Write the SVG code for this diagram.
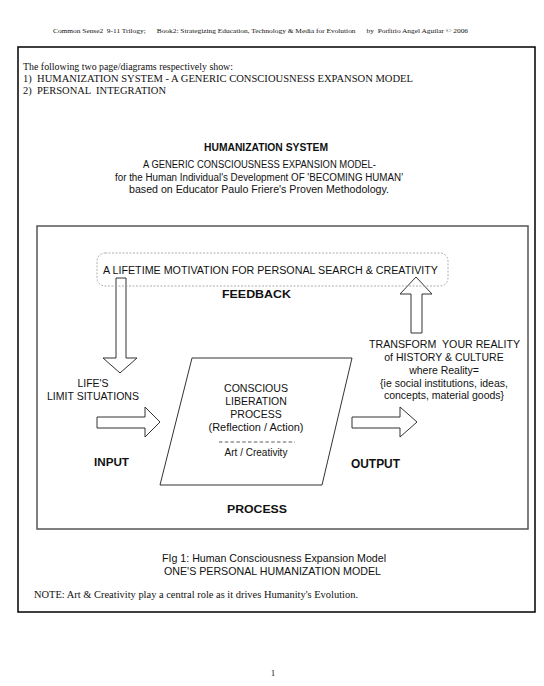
<svg xmlns="http://www.w3.org/2000/svg" width="544" height="686" viewBox="0 0 544 686">
<style>
.serif{font-family:"Liberation Serif","Times New Roman",serif;fill:#111}
.sans{font-family:"Liberation Sans",Arial,sans-serif;fill:#111}
.b{font-weight:bold}
.arrow{fill:#fff;stroke:#333;stroke-width:1}
</style>
<rect width="544" height="686" fill="#fff"/>
<text class="serif" x="53" y="33" font-size="7" textLength="415" lengthAdjust="spacingAndGlyphs" xml:space="preserve">Common Sense2  9-11 Trilogy;      Book2: Strategizing Education, Technology &amp; Media for Evolution      by  Porfirio Angel Aguilar © 2006</text>
<rect x="18" y="47" width="517" height="565" fill="none" stroke="#000" stroke-width="1.5"/>
<g id="intro">
<text class="serif" x="23" y="70" font-size="10" textLength="210" lengthAdjust="spacingAndGlyphs">The following two page/diagrams respectively show:</text>
<text class="serif" x="23" y="82" font-size="10.5" textLength="390" lengthAdjust="spacingAndGlyphs" xml:space="preserve">1)  HUMANIZATION SYSTEM - A GENERIC CONSCIOUSNESS EXPANSON MODEL</text>
<text class="serif" x="23" y="94" font-size="10.5" textLength="143" lengthAdjust="spacingAndGlyphs" xml:space="preserve">2)  PERSONAL  INTEGRATION</text>
</g>
<g id="title">
<text class="sans b" x="266" y="151" font-size="10" text-anchor="middle" textLength="124" lengthAdjust="spacingAndGlyphs">HUMANIZATION SYSTEM</text>
<text class="sans" x="259.5" y="168" font-size="10" text-anchor="middle" textLength="233" lengthAdjust="spacingAndGlyphs">A GENERIC CONSCIOUSNESS EXPANSION MODEL-</text>
<text class="sans" x="259" y="181" font-size="10" text-anchor="middle" textLength="288" lengthAdjust="spacingAndGlyphs">for the Human Individual's Development OF 'BECOMING HUMAN'</text>
<text class="sans" x="259" y="193" font-size="10" text-anchor="middle" textLength="260" lengthAdjust="spacingAndGlyphs">based on Educator Paulo Friere's Proven Methodology.</text>
</g>
<rect x="37" y="226" width="491" height="303" fill="none" stroke="#555" stroke-width="1.5"/>
<g id="connectors">
<polygon class="arrow" points="116,278 126,278 126,358 137,358 120,373 103,358 116,358"/>
<polygon class="arrow" points="416,277 432,294 422,294 422,333 411,333 411,294 400,294"/>
<polygon class="arrow" points="97,417 145,417 145,407 160,422 145,437 145,428 97,428"/>
<polygon class="arrow" points="352,417 400,417 400,407 417,422 400,437 400,428 352,428"/>
</g>
<g id="feedback">
<rect x="97" y="253" width="351" height="33" rx="8" fill="none" stroke="#999" stroke-width="0.8" stroke-dasharray="2,1.5"/>
<text class="sans" x="270.5" y="274" font-size="10" text-anchor="middle" textLength="335" lengthAdjust="spacingAndGlyphs">A LIFETIME MOTIVATION FOR PERSONAL SEARCH &amp; CREATIVITY</text>
<text class="sans b" x="256.5" y="298" font-size="11.5" text-anchor="middle" textLength="69" lengthAdjust="spacingAndGlyphs">FEEDBACK</text>
</g>
<g id="input">
<text class="sans" x="93" y="387" font-size="10.5" text-anchor="middle">LIFE'S</text>
<text class="sans" x="93" y="400" font-size="10.5" text-anchor="middle" textLength="92" lengthAdjust="spacingAndGlyphs">LIMIT SITUATIONS</text>
<text class="sans b" x="111.5" y="466" font-size="11.5" text-anchor="middle" textLength="35" lengthAdjust="spacingAndGlyphs">INPUT</text>
</g>
<g id="process">
<polygon points="192,358 352,358 322,485 160,485" fill="#fff" stroke="#333" stroke-width="1"/>
<text class="sans" x="256" y="392" font-size="10.5" text-anchor="middle" textLength="64" lengthAdjust="spacingAndGlyphs">CONSCIOUS</text>
<text class="sans" x="256" y="405" font-size="10.5" text-anchor="middle">LIBERATION</text>
<text class="sans" x="256" y="418" font-size="10.5" text-anchor="middle">PROCESS</text>
<text class="sans" x="256" y="431" font-size="10.5" text-anchor="middle" textLength="95" lengthAdjust="spacingAndGlyphs">(Reflection / Action)</text>
<line x1="219" y1="442" x2="295" y2="442" stroke="#333" stroke-width="0.8" stroke-dasharray="3.5,2.3"/>
<text class="sans" x="256" y="456" font-size="10" text-anchor="middle">Art / Creativity</text>
<text class="sans b" x="257" y="513" font-size="11.5" text-anchor="middle" textLength="60" lengthAdjust="spacingAndGlyphs">PROCESS</text>
</g>
<g id="output">
<text class="sans" x="444.5" y="348" font-size="10.5" text-anchor="middle" textLength="151" lengthAdjust="spacingAndGlyphs" xml:space="preserve">TRANSFORM  YOUR REALITY</text>
<text class="sans" x="444" y="361" font-size="10.5" text-anchor="middle">of HISTORY &amp; CULTURE</text>
<text class="sans" x="444" y="374" font-size="10.5" text-anchor="middle">where Reality=</text>
<text class="sans" x="444" y="387" font-size="10.5" text-anchor="middle">{ie social institutions, ideas,</text>
<text class="sans" x="444" y="399" font-size="10.5" text-anchor="middle">concepts, material goods}</text>
<text class="sans b" x="375.5" y="468" font-size="12" text-anchor="middle" textLength="49" lengthAdjust="spacingAndGlyphs">OUTPUT</text>
</g>
<g id="caption">
<text class="sans" x="274" y="562" font-size="10.5" text-anchor="middle" textLength="224" lengthAdjust="spacingAndGlyphs">FIg 1: Human Consciousness Expansion Model</text>
<text class="sans" x="272.5" y="575" font-size="10.5" text-anchor="middle" textLength="217" lengthAdjust="spacingAndGlyphs">ONE'S PERSONAL HUMANIZATION MODEL</text>
<text class="serif" x="34" y="598" font-size="10.3" textLength="324" lengthAdjust="spacingAndGlyphs">NOTE: Art &amp; Creativity play a central role as it drives Humanity's Evolution.</text>
</g>
<text class="serif" x="273" y="676" font-size="9" text-anchor="middle">1</text>
</svg>
